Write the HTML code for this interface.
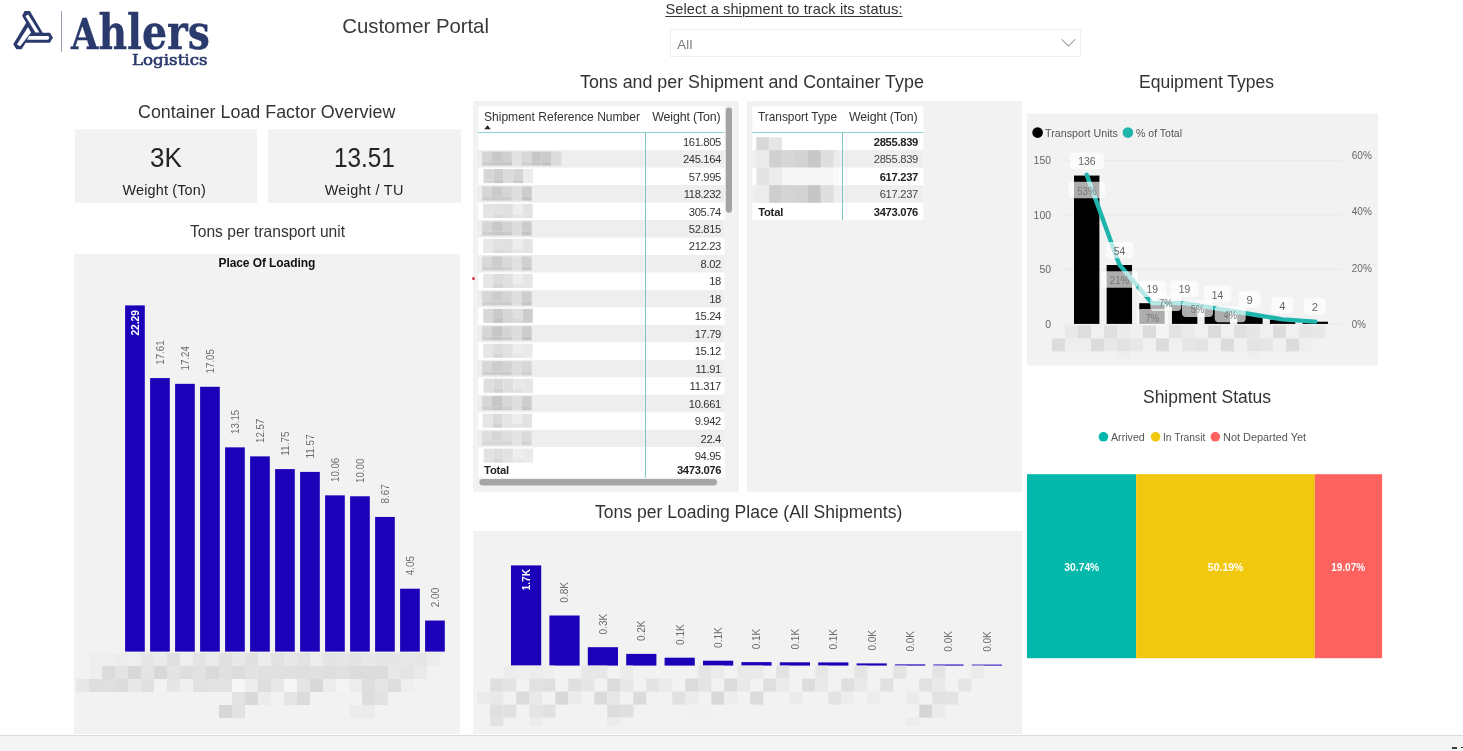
<!DOCTYPE html>
<html lang="en"><head><meta charset="utf-8"><title>Customer Portal</title>
<style>html,body{margin:0;padding:0}body{width:1463px;height:751px;position:relative;overflow:hidden;background:#fff;
font-family:'Liberation Sans',sans-serif;}.abs{position:absolute;display:block}.t{position:absolute;white-space:nowrap;display:block}</style></head>
<body>
<svg class="abs" style="left:0;top:0" width="240" height="80" viewBox="0 0 240 80">
<path fill="#2a3a6c" fill-rule="evenodd" d="M24.6 11.1 L29.9 11.1 L42.7 32.8 L50 32.8 L52.9 37.7 L49.8 42.7 L25.6 42.7 L21.6 49.3 L16.4 49.3 L13.2 44.3 L26.2 22.8 L22.1 15.7 Z
M25.4 16.0 L28.2 14.4 L39.4 32.6 L35.4 32.6 Z
M29.2 36.1 L48.4 36.1 L49.4 37.8 L48.2 39.8 L27.1 39.8 Z
M28.0 27.0 L31.0 32.4 L20.2 46.3 L16.9 44.6 Z"/>
<rect x="61" y="11" width="1" height="41" fill="#9aa0b8"/>
</svg>
<span class="t" id="t1" style="top:8.39px;font-size:48.00px;line-height:48.00px;color:#2a3a6c;font-weight:700;font-family:'DejaVu Serif Condensed', 'DejaVu Serif', serif;left:71.00px;transform:scaleX(0.9122);transform-origin:0 0;-webkit-text-stroke:0.3px #2a3a6c;"><span style="font-size:43px">A</span>hlers</span>
<span class="t" id="t2" style="top:53.10px;font-size:15.60px;line-height:15.60px;color:#2a3a6c;font-family:'DejaVu Serif', 'Liberation Serif', serif;left:132.30px;transform:scaleX(1.0690);transform-origin:0 0;-webkit-text-stroke:0.65px #2a3a6c;">Logistics</span>
<span class="t" id="t3" style="top:15.53px;font-size:20.40px;line-height:20.40px;color:#3a3a3a;letter-spacing:-0.049px;left:342.30px;">Customer Portal</span>
<span class="t" id="t4" style="top:1.64px;font-size:14.60px;line-height:14.60px;color:#333;letter-spacing:0.094px;left:665.40px;text-decoration:underline;text-decoration-thickness:1px;text-underline-offset:1.5px;">Select a shipment to track its status:</span>
<div class="abs" style="left:670px;top:29px;width:409px;height:26px;border:1px solid #efefef;background:#fff"></div>
<span class="t" id="t5" style="top:37.63px;font-size:13.20px;line-height:13.20px;color:#777;letter-spacing:0.281px;left:677.30px;">All</span>
<svg class="abs" style="left:1056px;top:34px" width="24" height="18"><path d="M5.7 5.3 L12.5 12.2 L19 5.3" fill="none" stroke="#777" stroke-width="1"/></svg>
<span class="t" id="t6" style="top:101.83px;font-size:19.10px;line-height:19.10px;color:#333;left:138.00px;transform:scaleX(0.9364);transform-origin:0 0;">Container Load Factor Overview</span>
<div class="abs" style="left:75px;top:129px;width:181.5px;height:74px;background:#f2f2f2"></div>
<div class="abs" style="left:268px;top:129px;width:192.5px;height:74px;background:#f2f2f2"></div>
<span class="t" id="t7" style="top:144.51px;font-size:26.80px;line-height:26.80px;color:#252423;left:150.40px;transform:scaleX(0.9701);transform-origin:0 0;">3K</span>
<span class="t" id="t8" style="top:144.51px;font-size:26.80px;line-height:26.80px;color:#252423;left:334.00px;transform:scaleX(0.9066);transform-origin:0 0;">13.51</span>
<span class="t" id="t9" style="top:182.81px;font-size:14.40px;line-height:14.40px;color:#252423;letter-spacing:0.166px;left:122.60px;">Weight (Ton)</span>
<span class="t" id="t10" style="top:182.81px;font-size:14.40px;line-height:14.40px;color:#252423;letter-spacing:0.322px;left:324.70px;">Weight / TU</span>
<span class="t" id="t11" style="top:222.53px;font-size:16.50px;line-height:16.50px;color:#333;left:189.80px;transform:scaleX(0.9441);transform-origin:0 0;">Tons per transport unit</span>
<svg class="abs" style="left:0;top:240px" width="470" height="500" viewBox="0 240 470 500" font-family="Liberation Sans, sans-serif"><rect x="74.00" y="254.00" width="386.00" height="480.00" fill="#f2f2f2"/><rect x="125.10" y="305.40" width="19.70" height="346.20" fill="#1b02b9"/><text x="139.05" y="335.60" font-size="11.50" text-anchor="start" fill="#fff" font-weight="700" textLength="25.50" lengthAdjust="spacingAndGlyphs" transform="rotate(-90 139.05 335.60)">22.29</text><rect x="150.10" y="378.09" width="19.70" height="273.51" fill="#1b02b9"/><text x="164.05" y="364.69" font-size="11.50" text-anchor="start" fill="#6b6b6b" textLength="24.20" lengthAdjust="spacingAndGlyphs" transform="rotate(-90 164.05 364.69)">17.61</text><rect x="175.10" y="383.83" width="19.70" height="267.77" fill="#1b02b9"/><text x="189.05" y="370.43" font-size="11.50" text-anchor="start" fill="#6b6b6b" textLength="24.20" lengthAdjust="spacingAndGlyphs" transform="rotate(-90 189.05 370.43)">17.24</text><rect x="200.10" y="386.79" width="19.70" height="264.81" fill="#1b02b9"/><text x="214.05" y="373.39" font-size="11.50" text-anchor="start" fill="#6b6b6b" textLength="24.20" lengthAdjust="spacingAndGlyphs" transform="rotate(-90 214.05 373.39)">17.05</text><rect x="225.10" y="447.36" width="19.70" height="204.24" fill="#1b02b9"/><text x="239.05" y="433.96" font-size="11.50" text-anchor="start" fill="#6b6b6b" textLength="24.20" lengthAdjust="spacingAndGlyphs" transform="rotate(-90 239.05 433.96)">13.15</text><rect x="250.10" y="456.37" width="19.70" height="195.23" fill="#1b02b9"/><text x="264.05" y="442.97" font-size="11.50" text-anchor="start" fill="#6b6b6b" textLength="24.20" lengthAdjust="spacingAndGlyphs" transform="rotate(-90 264.05 442.97)">12.57</text><rect x="275.10" y="469.10" width="19.70" height="182.50" fill="#1b02b9"/><text x="289.05" y="455.70" font-size="11.50" text-anchor="start" fill="#6b6b6b" textLength="24.20" lengthAdjust="spacingAndGlyphs" transform="rotate(-90 289.05 455.70)">11.75</text><rect x="300.10" y="471.90" width="19.70" height="179.70" fill="#1b02b9"/><text x="314.05" y="458.50" font-size="11.50" text-anchor="start" fill="#6b6b6b" textLength="24.20" lengthAdjust="spacingAndGlyphs" transform="rotate(-90 314.05 458.50)">11.57</text><rect x="325.10" y="495.35" width="19.70" height="156.25" fill="#1b02b9"/><text x="339.05" y="481.95" font-size="11.50" text-anchor="start" fill="#6b6b6b" textLength="24.20" lengthAdjust="spacingAndGlyphs" transform="rotate(-90 339.05 481.95)">10.06</text><rect x="350.10" y="496.28" width="19.70" height="155.32" fill="#1b02b9"/><text x="364.05" y="482.88" font-size="11.50" text-anchor="start" fill="#6b6b6b" textLength="24.20" lengthAdjust="spacingAndGlyphs" transform="rotate(-90 364.05 482.88)">10.00</text><rect x="375.10" y="516.94" width="19.70" height="134.66" fill="#1b02b9"/><text x="389.05" y="503.54" font-size="11.50" text-anchor="start" fill="#6b6b6b" textLength="19.30" lengthAdjust="spacingAndGlyphs" transform="rotate(-90 389.05 503.54)">8.67</text><rect x="400.10" y="588.70" width="19.70" height="62.90" fill="#1b02b9"/><text x="414.05" y="575.30" font-size="11.50" text-anchor="start" fill="#6b6b6b" textLength="19.30" lengthAdjust="spacingAndGlyphs" transform="rotate(-90 414.05 575.30)">4.05</text><rect x="425.10" y="620.54" width="19.70" height="31.06" fill="#1b02b9"/><text x="439.05" y="607.14" font-size="11.50" text-anchor="start" fill="#6b6b6b" textLength="19.30" lengthAdjust="spacingAndGlyphs" transform="rotate(-90 439.05 607.14)">2.00</text><rect x="89.00" y="653.00" width="13.00" height="13.00" fill="#eeeeee"/><rect x="102.00" y="653.00" width="13.00" height="13.00" fill="#eeeeee"/><rect x="115.00" y="653.00" width="13.00" height="13.00" fill="#ececec"/><rect x="128.00" y="653.00" width="13.00" height="13.00" fill="#eeeeee"/><rect x="141.00" y="653.00" width="13.00" height="13.00" fill="#e6e6e6"/><rect x="154.00" y="653.00" width="13.00" height="13.00" fill="#ebebeb"/><rect x="167.00" y="653.00" width="13.00" height="13.00" fill="#e0e0e0"/><rect x="180.00" y="653.00" width="13.00" height="13.00" fill="#eeeeee"/><rect x="193.00" y="653.00" width="13.00" height="13.00" fill="#e4e4e4"/><rect x="206.00" y="653.00" width="13.00" height="13.00" fill="#ebebeb"/><rect x="219.00" y="653.00" width="13.00" height="13.00" fill="#e0e0e0"/><rect x="232.00" y="653.00" width="13.00" height="13.00" fill="#e8e8e8"/><rect x="245.00" y="653.00" width="13.00" height="13.00" fill="#e0e0e0"/><rect x="258.00" y="653.00" width="13.00" height="13.00" fill="#ececec"/><rect x="271.00" y="653.00" width="13.00" height="13.00" fill="#e2e2e2"/><rect x="284.00" y="653.00" width="13.00" height="13.00" fill="#e8e8e8"/><rect x="297.00" y="653.00" width="13.00" height="13.00" fill="#e2e2e2"/><rect x="310.00" y="653.00" width="13.00" height="13.00" fill="#ececec"/><rect x="323.00" y="653.00" width="13.00" height="13.00" fill="#e4e4e4"/><rect x="336.00" y="653.00" width="13.00" height="13.00" fill="#e6e6e6"/><rect x="349.00" y="653.00" width="13.00" height="13.00" fill="#e4e4e4"/><rect x="362.00" y="653.00" width="13.00" height="13.00" fill="#e8e8e8"/><rect x="375.00" y="653.00" width="13.00" height="13.00" fill="#e6e6e6"/><rect x="388.00" y="653.00" width="13.00" height="13.00" fill="#e6e6e6"/><rect x="401.00" y="653.00" width="13.00" height="13.00" fill="#e8e8e8"/><rect x="414.00" y="653.00" width="13.00" height="13.00" fill="#e6e6e6"/><rect x="427.00" y="653.00" width="13.00" height="13.00" fill="#ececec"/><rect x="89.00" y="666.00" width="13.00" height="13.00" fill="#eeeeee"/><rect x="102.00" y="666.00" width="13.00" height="13.00" fill="#dcdcdc"/><rect x="115.00" y="666.00" width="13.00" height="13.00" fill="#e4e4e4"/><rect x="128.00" y="666.00" width="13.00" height="13.00" fill="#d8d8d8"/><rect x="141.00" y="666.00" width="13.00" height="13.00" fill="#e4e4e4"/><rect x="154.00" y="666.00" width="13.00" height="13.00" fill="#d8d8d8"/><rect x="167.00" y="666.00" width="13.00" height="13.00" fill="#e4e4e4"/><rect x="180.00" y="666.00" width="13.00" height="13.00" fill="#dedede"/><rect x="193.00" y="666.00" width="13.00" height="13.00" fill="#e2e2e2"/><rect x="206.00" y="666.00" width="13.00" height="13.00" fill="#dadada"/><rect x="219.00" y="666.00" width="13.00" height="13.00" fill="#e0e0e0"/><rect x="232.00" y="666.00" width="13.00" height="13.00" fill="#dcdcdc"/><rect x="245.00" y="666.00" width="13.00" height="13.00" fill="#e2e2e2"/><rect x="258.00" y="666.00" width="13.00" height="13.00" fill="#e0e0e0"/><rect x="271.00" y="666.00" width="13.00" height="13.00" fill="#e0e0e0"/><rect x="284.00" y="666.00" width="13.00" height="13.00" fill="#e0e0e0"/><rect x="297.00" y="666.00" width="13.00" height="13.00" fill="#dfdfdf"/><rect x="310.00" y="666.00" width="13.00" height="13.00" fill="#e0e0e0"/><rect x="323.00" y="666.00" width="13.00" height="13.00" fill="#dedede"/><rect x="336.00" y="666.00" width="13.00" height="13.00" fill="#e0e0e0"/><rect x="349.00" y="666.00" width="13.00" height="13.00" fill="#dcdcdc"/><rect x="362.00" y="666.00" width="13.00" height="13.00" fill="#dcdcdc"/><rect x="375.00" y="666.00" width="13.00" height="13.00" fill="#dcdcdc"/><rect x="388.00" y="666.00" width="13.00" height="13.00" fill="#e8e8e8"/><rect x="401.00" y="666.00" width="13.00" height="13.00" fill="#e4e4e4"/><rect x="414.00" y="666.00" width="13.00" height="13.00" fill="#e9e9e9"/><rect x="76.00" y="679.00" width="13.00" height="13.00" fill="#e8e8e8"/><rect x="89.00" y="679.00" width="13.00" height="13.00" fill="#dedede"/><rect x="102.00" y="679.00" width="13.00" height="13.00" fill="#dfdfdf"/><rect x="115.00" y="679.00" width="13.00" height="13.00" fill="#dcdcdc"/><rect x="128.00" y="679.00" width="13.00" height="13.00" fill="#e8e8e8"/><rect x="141.00" y="679.00" width="13.00" height="13.00" fill="#e0e0e0"/><rect x="167.00" y="679.00" width="13.00" height="13.00" fill="#e6e6e6"/><rect x="180.00" y="679.00" width="13.00" height="13.00" fill="#efefef"/><rect x="193.00" y="679.00" width="13.00" height="13.00" fill="#e1e1e1"/><rect x="206.00" y="679.00" width="13.00" height="13.00" fill="#e3e3e3"/><rect x="219.00" y="679.00" width="13.00" height="13.00" fill="#e3e3e3"/><rect x="232.00" y="679.00" width="13.00" height="13.00" fill="#f6f6f6"/><rect x="245.00" y="679.00" width="13.00" height="13.00" fill="#ececec"/><rect x="258.00" y="679.00" width="13.00" height="13.00" fill="#dedede"/><rect x="271.00" y="679.00" width="13.00" height="13.00" fill="#e8e8e8"/><rect x="284.00" y="679.00" width="13.00" height="13.00" fill="#f6f6f6"/><rect x="297.00" y="679.00" width="13.00" height="13.00" fill="#e5e5e5"/><rect x="310.00" y="679.00" width="13.00" height="13.00" fill="#d8d8d8"/><rect x="323.00" y="679.00" width="13.00" height="13.00" fill="#ececec"/><rect x="336.00" y="679.00" width="13.00" height="13.00" fill="#f4f4f4"/><rect x="349.00" y="679.00" width="13.00" height="13.00" fill="#ececec"/><rect x="362.00" y="679.00" width="13.00" height="13.00" fill="#dedede"/><rect x="375.00" y="679.00" width="13.00" height="13.00" fill="#e5e5e5"/><rect x="388.00" y="679.00" width="13.00" height="13.00" fill="#dedede"/><rect x="401.00" y="679.00" width="13.00" height="13.00" fill="#efefef"/><rect x="232.00" y="692.00" width="13.00" height="13.00" fill="#e3e3e3"/><rect x="245.00" y="692.00" width="13.00" height="13.00" fill="#d9d9d9"/><rect x="258.00" y="692.00" width="13.00" height="13.00" fill="#ececec"/><rect x="284.00" y="692.00" width="13.00" height="13.00" fill="#e5e5e5"/><rect x="297.00" y="692.00" width="13.00" height="13.00" fill="#dbdbdb"/><rect x="362.00" y="692.00" width="13.00" height="13.00" fill="#dedede"/><rect x="375.00" y="692.00" width="13.00" height="13.00" fill="#e2e2e2"/><rect x="219.00" y="705.00" width="13.00" height="13.00" fill="#d7d7d7"/><rect x="232.00" y="705.00" width="13.00" height="13.00" fill="#e2e2e2"/><rect x="349.00" y="705.00" width="13.00" height="13.00" fill="#ececec"/><rect x="362.00" y="705.00" width="13.00" height="13.00" fill="#ebebeb"/></svg>
<span class="t" id="t12" style="top:256.94px;font-size:12.00px;line-height:12.00px;color:#111;font-weight:700;letter-spacing:-0.082px;left:218.50px;">Place Of Loading</span>
<span class="t" id="t13" style="top:72.33px;font-size:19.10px;line-height:19.10px;color:#333;left:580.10px;transform:scaleX(0.9343);transform-origin:0 0;">Tons and per Shipment and Container Type</span>
<div class="abs" style="left:473px;top:101px;width:266px;height:391px;background:#f2f2f2"></div>
<div class="abs" style="left:747px;top:101px;width:274.5px;height:391px;background:#f2f2f2"></div>
<svg class="abs" style="left:470px;top:100px" width="560" height="395" viewBox="470 100 560 395"><rect x="478.00" y="106.50" width="246.50" height="371.00" fill="#fff"/><rect x="478.00" y="150.17" width="246.50" height="17.47" fill="#eeeeee"/><rect x="478.00" y="185.11" width="246.50" height="17.47" fill="#eeeeee"/><rect x="478.00" y="220.05" width="246.50" height="17.47" fill="#eeeeee"/><rect x="478.00" y="254.99" width="246.50" height="17.47" fill="#eeeeee"/><rect x="478.00" y="289.93" width="246.50" height="17.47" fill="#eeeeee"/><rect x="478.00" y="324.87" width="246.50" height="17.47" fill="#eeeeee"/><rect x="478.00" y="359.81" width="246.50" height="17.47" fill="#eeeeee"/><rect x="478.00" y="394.75" width="246.50" height="17.47" fill="#eeeeee"/><rect x="478.00" y="429.69" width="246.50" height="17.47" fill="#eeeeee"/><rect x="482.20" y="151.57" width="9.90" height="10.20" fill="#d4d4d4"/><rect x="482.20" y="161.77" width="9.90" height="3.90" fill="#cccccc"/><rect x="492.10" y="151.57" width="9.90" height="10.20" fill="#c8c8c8"/><rect x="492.10" y="161.77" width="9.90" height="3.90" fill="#c8c8c8"/><rect x="502.00" y="151.57" width="9.90" height="10.20" fill="#d0d0d0"/><rect x="502.00" y="161.77" width="9.90" height="3.90" fill="#c8c8c8"/><rect x="511.90" y="151.57" width="9.90" height="10.20" fill="#e2e2e2"/><rect x="511.90" y="161.77" width="9.90" height="3.90" fill="#e2e2e2"/><rect x="521.80" y="151.57" width="9.90" height="10.20" fill="#d8d8d8"/><rect x="521.80" y="161.77" width="9.90" height="3.90" fill="#d0d0d0"/><rect x="531.70" y="151.57" width="9.90" height="10.20" fill="#c6c6c6"/><rect x="531.70" y="161.77" width="9.90" height="3.90" fill="#c6c6c6"/><rect x="541.60" y="151.57" width="9.90" height="10.20" fill="#cacaca"/><rect x="541.60" y="161.77" width="9.90" height="3.90" fill="#c2c2c2"/><rect x="551.50" y="151.57" width="9.90" height="10.20" fill="#dcdcdc"/><rect x="551.50" y="161.77" width="9.90" height="3.90" fill="#dcdcdc"/><rect x="483.60" y="169.04" width="9.90" height="10.20" fill="#d6d6d6"/><rect x="483.60" y="179.24" width="9.90" height="3.90" fill="#d6d6d6"/><rect x="493.50" y="169.04" width="9.90" height="10.20" fill="#cecece"/><rect x="493.50" y="179.24" width="9.90" height="3.90" fill="#c6c6c6"/><rect x="503.40" y="169.04" width="9.90" height="10.20" fill="#dadada"/><rect x="503.40" y="179.24" width="9.90" height="3.90" fill="#dadada"/><rect x="513.30" y="169.04" width="9.90" height="10.20" fill="#d4d4d4"/><rect x="513.30" y="179.24" width="9.90" height="3.90" fill="#cccccc"/><rect x="523.20" y="169.04" width="9.90" height="10.20" fill="#ececec"/><rect x="523.20" y="179.24" width="9.90" height="3.90" fill="#ececec"/><rect x="482.20" y="186.51" width="9.90" height="10.20" fill="#d6d6d6"/><rect x="482.20" y="196.71" width="9.90" height="3.90" fill="#cecece"/><rect x="492.10" y="186.51" width="9.90" height="10.20" fill="#cacaca"/><rect x="492.10" y="196.71" width="9.90" height="3.90" fill="#cacaca"/><rect x="502.00" y="186.51" width="9.90" height="10.20" fill="#d4d4d4"/><rect x="502.00" y="196.71" width="9.90" height="3.90" fill="#cccccc"/><rect x="511.90" y="186.51" width="9.90" height="10.20" fill="#dedede"/><rect x="511.90" y="196.71" width="9.90" height="3.90" fill="#dedede"/><rect x="521.80" y="186.51" width="9.90" height="10.20" fill="#cccccc"/><rect x="521.80" y="196.71" width="9.90" height="3.90" fill="#c4c4c4"/><rect x="483.20" y="203.98" width="9.90" height="10.20" fill="#e4e4e4"/><rect x="483.20" y="214.18" width="9.90" height="3.90" fill="#e4e4e4"/><rect x="493.10" y="203.98" width="9.90" height="10.20" fill="#e2e2e2"/><rect x="493.10" y="214.18" width="9.90" height="3.90" fill="#dadada"/><rect x="503.00" y="203.98" width="9.90" height="10.20" fill="#e0e0e0"/><rect x="503.00" y="214.18" width="9.90" height="3.90" fill="#e0e0e0"/><rect x="512.90" y="203.98" width="9.90" height="10.20" fill="#eeeeee"/><rect x="512.90" y="214.18" width="9.90" height="3.90" fill="#e6e6e6"/><rect x="522.80" y="203.98" width="9.90" height="10.20" fill="#e2e2e2"/><rect x="522.80" y="214.18" width="9.90" height="3.90" fill="#e2e2e2"/><rect x="482.20" y="221.45" width="9.90" height="10.20" fill="#d6d6d6"/><rect x="482.20" y="231.65" width="9.90" height="3.90" fill="#cecece"/><rect x="492.10" y="221.45" width="9.90" height="10.20" fill="#c8c8c8"/><rect x="492.10" y="231.65" width="9.90" height="3.90" fill="#c8c8c8"/><rect x="502.00" y="221.45" width="9.90" height="10.20" fill="#d2d2d2"/><rect x="502.00" y="231.65" width="9.90" height="3.90" fill="#cacaca"/><rect x="511.90" y="221.45" width="9.90" height="10.20" fill="#dcdcdc"/><rect x="511.90" y="231.65" width="9.90" height="3.90" fill="#dcdcdc"/><rect x="521.80" y="221.45" width="9.90" height="10.20" fill="#cccccc"/><rect x="521.80" y="231.65" width="9.90" height="3.90" fill="#c4c4c4"/><rect x="483.20" y="238.92" width="9.90" height="10.20" fill="#e8e8e8"/><rect x="483.20" y="249.12" width="9.90" height="3.90" fill="#e8e8e8"/><rect x="493.10" y="238.92" width="9.90" height="10.20" fill="#e2e2e2"/><rect x="493.10" y="249.12" width="9.90" height="3.90" fill="#dadada"/><rect x="503.00" y="238.92" width="9.90" height="10.20" fill="#e0e0e0"/><rect x="503.00" y="249.12" width="9.90" height="3.90" fill="#e0e0e0"/><rect x="512.90" y="238.92" width="9.90" height="10.20" fill="#eeeeee"/><rect x="512.90" y="249.12" width="9.90" height="3.90" fill="#e6e6e6"/><rect x="522.80" y="238.92" width="9.90" height="10.20" fill="#e4e4e4"/><rect x="522.80" y="249.12" width="9.90" height="3.90" fill="#e4e4e4"/><rect x="482.20" y="256.39" width="9.90" height="10.20" fill="#d8d8d8"/><rect x="482.20" y="266.59" width="9.90" height="3.90" fill="#d0d0d0"/><rect x="492.10" y="256.39" width="9.90" height="10.20" fill="#cccccc"/><rect x="492.10" y="266.59" width="9.90" height="3.90" fill="#cccccc"/><rect x="502.00" y="256.39" width="9.90" height="10.20" fill="#d8d8d8"/><rect x="502.00" y="266.59" width="9.90" height="3.90" fill="#d0d0d0"/><rect x="511.90" y="256.39" width="9.90" height="10.20" fill="#e0e0e0"/><rect x="511.90" y="266.59" width="9.90" height="3.90" fill="#e0e0e0"/><rect x="521.80" y="256.39" width="9.90" height="10.20" fill="#d0d0d0"/><rect x="521.80" y="266.59" width="9.90" height="3.90" fill="#c8c8c8"/><rect x="483.20" y="273.86" width="9.90" height="10.20" fill="#e6e6e6"/><rect x="483.20" y="284.06" width="9.90" height="3.90" fill="#e6e6e6"/><rect x="493.10" y="273.86" width="9.90" height="10.20" fill="#dcdcdc"/><rect x="493.10" y="284.06" width="9.90" height="3.90" fill="#d4d4d4"/><rect x="503.00" y="273.86" width="9.90" height="10.20" fill="#e0e0e0"/><rect x="503.00" y="284.06" width="9.90" height="3.90" fill="#e0e0e0"/><rect x="512.90" y="273.86" width="9.90" height="10.20" fill="#eeeeee"/><rect x="512.90" y="284.06" width="9.90" height="3.90" fill="#e6e6e6"/><rect x="522.80" y="273.86" width="9.90" height="10.20" fill="#e6e6e6"/><rect x="522.80" y="284.06" width="9.90" height="3.90" fill="#e6e6e6"/><rect x="482.20" y="291.33" width="9.90" height="10.20" fill="#d6d6d6"/><rect x="482.20" y="301.53" width="9.90" height="3.90" fill="#cecece"/><rect x="492.10" y="291.33" width="9.90" height="10.20" fill="#cccccc"/><rect x="492.10" y="301.53" width="9.90" height="3.90" fill="#cccccc"/><rect x="502.00" y="291.33" width="9.90" height="10.20" fill="#d4d4d4"/><rect x="502.00" y="301.53" width="9.90" height="3.90" fill="#cccccc"/><rect x="511.90" y="291.33" width="9.90" height="10.20" fill="#dedede"/><rect x="511.90" y="301.53" width="9.90" height="3.90" fill="#dedede"/><rect x="521.80" y="291.33" width="9.90" height="10.20" fill="#cecece"/><rect x="521.80" y="301.53" width="9.90" height="3.90" fill="#c6c6c6"/><rect x="483.20" y="308.80" width="9.90" height="10.20" fill="#d8d8d8"/><rect x="483.20" y="319.00" width="9.90" height="3.90" fill="#d8d8d8"/><rect x="493.10" y="308.80" width="9.90" height="10.20" fill="#cacaca"/><rect x="493.10" y="319.00" width="9.90" height="3.90" fill="#c2c2c2"/><rect x="503.00" y="308.80" width="9.90" height="10.20" fill="#d6d6d6"/><rect x="503.00" y="319.00" width="9.90" height="3.90" fill="#d6d6d6"/><rect x="512.90" y="308.80" width="9.90" height="10.20" fill="#e0e0e0"/><rect x="512.90" y="319.00" width="9.90" height="3.90" fill="#d8d8d8"/><rect x="522.80" y="308.80" width="9.90" height="10.20" fill="#cccccc"/><rect x="522.80" y="319.00" width="9.90" height="3.90" fill="#cccccc"/><rect x="482.20" y="326.27" width="9.90" height="10.20" fill="#d6d6d6"/><rect x="482.20" y="336.47" width="9.90" height="3.90" fill="#cecece"/><rect x="492.10" y="326.27" width="9.90" height="10.20" fill="#c6c6c6"/><rect x="492.10" y="336.47" width="9.90" height="3.90" fill="#c6c6c6"/><rect x="502.00" y="326.27" width="9.90" height="10.20" fill="#d4d4d4"/><rect x="502.00" y="336.47" width="9.90" height="3.90" fill="#cccccc"/><rect x="511.90" y="326.27" width="9.90" height="10.20" fill="#dcdcdc"/><rect x="511.90" y="336.47" width="9.90" height="3.90" fill="#dcdcdc"/><rect x="521.80" y="326.27" width="9.90" height="10.20" fill="#cccccc"/><rect x="521.80" y="336.47" width="9.90" height="3.90" fill="#c4c4c4"/><rect x="483.20" y="343.74" width="9.90" height="10.20" fill="#e6e6e6"/><rect x="483.20" y="353.94" width="9.90" height="3.90" fill="#e6e6e6"/><rect x="493.10" y="343.74" width="9.90" height="10.20" fill="#dedede"/><rect x="493.10" y="353.94" width="9.90" height="3.90" fill="#d6d6d6"/><rect x="503.00" y="343.74" width="9.90" height="10.20" fill="#e2e2e2"/><rect x="503.00" y="353.94" width="9.90" height="3.90" fill="#e2e2e2"/><rect x="512.90" y="343.74" width="9.90" height="10.20" fill="#eeeeee"/><rect x="512.90" y="353.94" width="9.90" height="3.90" fill="#e6e6e6"/><rect x="522.80" y="343.74" width="9.90" height="10.20" fill="#eaeaea"/><rect x="522.80" y="353.94" width="9.90" height="3.90" fill="#eaeaea"/><rect x="482.20" y="361.21" width="9.90" height="10.20" fill="#d6d6d6"/><rect x="482.20" y="371.41" width="9.90" height="3.90" fill="#cecece"/><rect x="492.10" y="361.21" width="9.90" height="10.20" fill="#cccccc"/><rect x="492.10" y="371.41" width="9.90" height="3.90" fill="#cccccc"/><rect x="502.00" y="361.21" width="9.90" height="10.20" fill="#d2d2d2"/><rect x="502.00" y="371.41" width="9.90" height="3.90" fill="#cacaca"/><rect x="511.90" y="361.21" width="9.90" height="10.20" fill="#dcdcdc"/><rect x="511.90" y="371.41" width="9.90" height="3.90" fill="#dcdcdc"/><rect x="521.80" y="361.21" width="9.90" height="10.20" fill="#d6d6d6"/><rect x="521.80" y="371.41" width="9.90" height="3.90" fill="#cecece"/><rect x="483.60" y="378.68" width="9.90" height="10.20" fill="#dedede"/><rect x="483.60" y="388.88" width="9.90" height="3.90" fill="#dedede"/><rect x="493.50" y="378.68" width="9.90" height="10.20" fill="#d8d8d8"/><rect x="493.50" y="388.88" width="9.90" height="3.90" fill="#d0d0d0"/><rect x="503.40" y="378.68" width="9.90" height="10.20" fill="#dedede"/><rect x="503.40" y="388.88" width="9.90" height="3.90" fill="#dedede"/><rect x="513.30" y="378.68" width="9.90" height="10.20" fill="#e8e8e8"/><rect x="513.30" y="388.88" width="9.90" height="3.90" fill="#e0e0e0"/><rect x="523.20" y="378.68" width="9.90" height="10.20" fill="#e6e6e6"/><rect x="523.20" y="388.88" width="9.90" height="3.90" fill="#e6e6e6"/><rect x="482.20" y="396.15" width="9.90" height="10.20" fill="#d6d6d6"/><rect x="482.20" y="406.35" width="9.90" height="3.90" fill="#cecece"/><rect x="492.10" y="396.15" width="9.90" height="10.20" fill="#c6c6c6"/><rect x="492.10" y="406.35" width="9.90" height="3.90" fill="#c6c6c6"/><rect x="502.00" y="396.15" width="9.90" height="10.20" fill="#d6d6d6"/><rect x="502.00" y="406.35" width="9.90" height="3.90" fill="#cecece"/><rect x="511.90" y="396.15" width="9.90" height="10.20" fill="#dedede"/><rect x="511.90" y="406.35" width="9.90" height="3.90" fill="#dedede"/><rect x="521.80" y="396.15" width="9.90" height="10.20" fill="#cecece"/><rect x="521.80" y="406.35" width="9.90" height="3.90" fill="#c6c6c6"/><rect x="482.60" y="413.62" width="9.90" height="10.20" fill="#e6e6e6"/><rect x="482.60" y="423.82" width="9.90" height="3.90" fill="#e6e6e6"/><rect x="492.50" y="413.62" width="9.90" height="10.20" fill="#dadada"/><rect x="492.50" y="423.82" width="9.90" height="3.90" fill="#d2d2d2"/><rect x="502.40" y="413.62" width="9.90" height="10.20" fill="#e4e4e4"/><rect x="502.40" y="423.82" width="9.90" height="3.90" fill="#e4e4e4"/><rect x="512.30" y="413.62" width="9.90" height="10.20" fill="#ececec"/><rect x="512.30" y="423.82" width="9.90" height="3.90" fill="#e4e4e4"/><rect x="522.20" y="413.62" width="9.90" height="10.20" fill="#e2e2e2"/><rect x="522.20" y="423.82" width="9.90" height="3.90" fill="#e2e2e2"/><rect x="482.20" y="431.09" width="9.90" height="10.20" fill="#dedede"/><rect x="482.20" y="441.29" width="9.90" height="3.90" fill="#d6d6d6"/><rect x="492.10" y="431.09" width="9.90" height="10.20" fill="#d6d6d6"/><rect x="492.10" y="441.29" width="9.90" height="3.90" fill="#d6d6d6"/><rect x="502.00" y="431.09" width="9.90" height="10.20" fill="#dedede"/><rect x="502.00" y="441.29" width="9.90" height="3.90" fill="#d6d6d6"/><rect x="511.90" y="431.09" width="9.90" height="10.20" fill="#e4e4e4"/><rect x="511.90" y="441.29" width="9.90" height="3.90" fill="#e4e4e4"/><rect x="521.80" y="431.09" width="9.90" height="10.20" fill="#dadada"/><rect x="521.80" y="441.29" width="9.90" height="3.90" fill="#d2d2d2"/><rect x="483.60" y="448.56" width="9.90" height="10.20" fill="#e2e2e2"/><rect x="483.60" y="458.76" width="9.90" height="3.90" fill="#e2e2e2"/><rect x="493.50" y="448.56" width="9.90" height="10.20" fill="#dedede"/><rect x="493.50" y="458.76" width="9.90" height="3.90" fill="#d6d6d6"/><rect x="503.40" y="448.56" width="9.90" height="10.20" fill="#e2e2e2"/><rect x="503.40" y="458.76" width="9.90" height="3.90" fill="#e2e2e2"/><rect x="513.30" y="448.56" width="9.90" height="10.20" fill="#eeeeee"/><rect x="513.30" y="458.76" width="9.90" height="3.90" fill="#e6e6e6"/><rect x="523.20" y="448.56" width="9.90" height="10.20" fill="#eaeaea"/><rect x="523.20" y="458.76" width="9.90" height="3.90" fill="#eaeaea"/><rect x="478.00" y="132.00" width="246.50" height="1.00" fill="#8fd3d1"/><rect x="645.00" y="132.00" width="1.00" height="345.50" fill="#7ac7c6"/><path d="M484.2 129.2 L487.5 125.3 L490.8 129.2 Z" fill="#222"/><rect x="725.80" y="107.40" width="6.20" height="105.30" fill="#a3a3a3" rx="3.1"/><rect x="479.40" y="479.00" width="237.60" height="6.60" fill="#a6a6a6" rx="3.3"/><rect x="752.30" y="106.50" width="171.00" height="113.50" fill="#fff"/><rect x="752.30" y="150.10" width="171.00" height="17.50" fill="#eeeeee"/><rect x="752.30" y="185.10" width="171.00" height="17.50" fill="#eeeeee"/><rect x="756.30" y="137.20" width="12.90" height="13.00" fill="#d8d8d8"/><rect x="769.20" y="137.20" width="12.90" height="13.00" fill="#e6e6e6"/><rect x="756.30" y="150.20" width="12.90" height="17.50" fill="#eaeaea"/><rect x="769.20" y="150.20" width="12.90" height="17.50" fill="#d0d0d0"/><rect x="782.10" y="150.20" width="12.90" height="17.50" fill="#d6d6d6"/><rect x="795.00" y="150.20" width="12.90" height="17.50" fill="#d2d2d2"/><rect x="807.90" y="150.20" width="12.90" height="17.50" fill="#c8c8c8"/><rect x="820.80" y="150.20" width="12.90" height="17.50" fill="#dedede"/><rect x="833.70" y="150.20" width="5.50" height="17.50" fill="#ececec"/><rect x="756.30" y="167.70" width="12.90" height="17.50" fill="#e4e4e4"/><rect x="769.20" y="167.70" width="12.90" height="17.50" fill="#ececec"/><rect x="782.10" y="167.70" width="12.90" height="17.50" fill="#f6f6f6"/><rect x="795.00" y="167.70" width="12.90" height="17.50" fill="#f7f7f7"/><rect x="807.90" y="167.70" width="12.90" height="17.50" fill="#f6f6f6"/><rect x="820.80" y="167.70" width="12.90" height="17.50" fill="#f7f7f7"/><rect x="833.70" y="167.70" width="5.50" height="17.50" fill="#f9f9f9"/><rect x="756.30" y="185.20" width="12.90" height="17.50" fill="#ececec"/><rect x="769.20" y="185.20" width="12.90" height="17.50" fill="#cecece"/><rect x="782.10" y="185.20" width="12.90" height="17.50" fill="#d4d4d4"/><rect x="795.00" y="185.20" width="12.90" height="17.50" fill="#d2d2d2"/><rect x="807.90" y="185.20" width="12.90" height="17.50" fill="#c6c6c6"/><rect x="820.80" y="185.20" width="12.90" height="17.50" fill="#dedede"/><rect x="833.70" y="185.20" width="5.50" height="17.50" fill="#eeeeee"/><rect x="752.30" y="132.00" width="171.00" height="1.00" fill="#8fd3d1"/><rect x="842.00" y="132.00" width="1.00" height="88.00" fill="#7ac7c6"/></svg>
<span class="t" id="t14" style="top:111.10px;font-size:12.40px;line-height:12.40px;color:#333;left:483.60px;transform:scaleX(0.9722);transform-origin:0 0;">Shipment Reference Number</span>
<span class="t" id="t15" style="top:111.10px;font-size:12.40px;line-height:12.40px;color:#333;letter-spacing:-0.135px;left:652.20px;">Weight (Ton)</span>
<span class="t" id="t16" style="top:136.62px;font-size:11.20px;line-height:11.20px;color:#333;right:742.10px;letter-spacing:-0.35px;">161.805</span>
<span class="t" id="t17" style="top:154.09px;font-size:11.20px;line-height:11.20px;color:#333;right:742.10px;letter-spacing:-0.35px;">245.164</span>
<span class="t" id="t18" style="top:171.56px;font-size:11.20px;line-height:11.20px;color:#333;right:742.10px;letter-spacing:-0.35px;">57.995</span>
<span class="t" id="t19" style="top:189.03px;font-size:11.20px;line-height:11.20px;color:#333;right:742.10px;letter-spacing:-0.35px;">118.232</span>
<span class="t" id="t20" style="top:206.50px;font-size:11.20px;line-height:11.20px;color:#333;right:742.10px;letter-spacing:-0.35px;">305.74</span>
<span class="t" id="t21" style="top:223.97px;font-size:11.20px;line-height:11.20px;color:#333;right:742.10px;letter-spacing:-0.35px;">52.815</span>
<span class="t" id="t22" style="top:241.44px;font-size:11.20px;line-height:11.20px;color:#333;right:742.10px;letter-spacing:-0.35px;">212.23</span>
<span class="t" id="t23" style="top:258.91px;font-size:11.20px;line-height:11.20px;color:#333;right:742.10px;letter-spacing:-0.35px;">8.02</span>
<span class="t" id="t24" style="top:276.38px;font-size:11.20px;line-height:11.20px;color:#333;right:742.10px;letter-spacing:-0.35px;">18</span>
<span class="t" id="t25" style="top:293.85px;font-size:11.20px;line-height:11.20px;color:#333;right:742.10px;letter-spacing:-0.35px;">18</span>
<span class="t" id="t26" style="top:311.32px;font-size:11.20px;line-height:11.20px;color:#333;right:742.10px;letter-spacing:-0.35px;">15.24</span>
<span class="t" id="t27" style="top:328.79px;font-size:11.20px;line-height:11.20px;color:#333;right:742.10px;letter-spacing:-0.35px;">17.79</span>
<span class="t" id="t28" style="top:346.26px;font-size:11.20px;line-height:11.20px;color:#333;right:742.10px;letter-spacing:-0.35px;">15.12</span>
<span class="t" id="t29" style="top:363.73px;font-size:11.20px;line-height:11.20px;color:#333;right:742.10px;letter-spacing:-0.35px;">11.91</span>
<span class="t" id="t30" style="top:381.20px;font-size:11.20px;line-height:11.20px;color:#333;right:742.10px;letter-spacing:-0.35px;">11.317</span>
<span class="t" id="t31" style="top:398.67px;font-size:11.20px;line-height:11.20px;color:#333;right:742.10px;letter-spacing:-0.35px;">10.661</span>
<span class="t" id="t32" style="top:416.14px;font-size:11.20px;line-height:11.20px;color:#333;right:742.10px;letter-spacing:-0.35px;">9.942</span>
<span class="t" id="t33" style="top:433.61px;font-size:11.20px;line-height:11.20px;color:#333;right:742.10px;letter-spacing:-0.35px;">22.4</span>
<span class="t" id="t34" style="top:451.08px;font-size:11.20px;line-height:11.20px;color:#333;right:742.10px;letter-spacing:-0.35px;">94.95</span>
<div class="abs" style="left:478px;top:464.2px;width:246.5px;height:13.3px;overflow:hidden;background:#fff"><span class="t" style="left:6.1px;top:0.8px;font-size:11.2px;line-height:11.2px;font-weight:700;color:#222;letter-spacing:-0.2px">Total</span><span class="t" style="right:3.3px;top:0.8px;font-size:11.2px;line-height:11.2px;font-weight:700;color:#222;letter-spacing:-0.3px">3473.076</span><div class="abs" style="left:167px;top:0;width:1px;height:14px;background:#7ac7c6"></div></div>
<span class="t" id="t35" style="top:111.30px;font-size:12.40px;line-height:12.40px;color:#333;left:758.20px;transform:scaleX(0.9558);transform-origin:0 0;">Transport Type</span>
<span class="t" id="t36" style="top:111.30px;font-size:12.40px;line-height:12.40px;color:#333;letter-spacing:-0.135px;left:849.00px;">Weight (Ton)</span>
<span class="t" id="t37" style="top:136.62px;font-size:11.20px;line-height:11.20px;color:#222;font-weight:700;right:545.00px;letter-spacing:-0.3px;">2855.839</span>
<span class="t" id="t38" style="top:154.09px;font-size:11.20px;line-height:11.20px;color:#444;right:545.00px;letter-spacing:-0.3px;">2855.839</span>
<span class="t" id="t39" style="top:171.56px;font-size:11.20px;line-height:11.20px;color:#222;font-weight:700;right:545.00px;letter-spacing:-0.3px;">617.237</span>
<span class="t" id="t40" style="top:189.03px;font-size:11.20px;line-height:11.20px;color:#444;right:545.00px;letter-spacing:-0.3px;">617.237</span>
<span class="t" id="t41" style="top:206.50px;font-size:11.20px;line-height:11.20px;color:#222;font-weight:700;right:545.00px;letter-spacing:-0.3px;">3473.076</span>
<span class="t" id="t42" style="top:206.50px;font-size:11.20px;line-height:11.20px;color:#222;font-weight:700;left:758.20px;letter-spacing:-0.2px;">Total</span>
<div class="abs" style="left:471.6px;top:276.6px;width:3px;height:3px;border-radius:2px;background:#d9363e"></div>
<span class="t" id="t43" style="top:502.03px;font-size:19.10px;line-height:19.10px;color:#333;left:594.80px;transform:scaleX(0.9192);transform-origin:0 0;">Tons per Loading Place (All Shipments)</span>
<svg class="abs" style="left:470px;top:528px" width="560" height="210" viewBox="470 528 560 210" font-family="Liberation Sans, sans-serif"><rect x="473.20" y="531.00" width="549.00" height="203.00" fill="#f2f2f2"/><rect x="511.00" y="565.40" width="30.20" height="100.20" fill="#1b02b9"/><text x="530.00" y="590.40" font-size="11.00" text-anchor="start" fill="#fff" font-weight="700" textLength="21.50" lengthAdjust="spacingAndGlyphs" transform="rotate(-90 530.00 590.40)">1.7K</text><rect x="549.40" y="615.50" width="30.20" height="50.10" fill="#1b02b9"/><text x="568.40" y="602.70" font-size="11.00" text-anchor="start" fill="#6b6b6b" textLength="20.60" lengthAdjust="spacingAndGlyphs" transform="rotate(-90 568.40 602.70)">0.8K</text><rect x="587.80" y="647.20" width="30.20" height="18.40" fill="#1b02b9"/><text x="606.80" y="634.40" font-size="11.00" text-anchor="start" fill="#6b6b6b" textLength="20.60" lengthAdjust="spacingAndGlyphs" transform="rotate(-90 606.80 634.40)">0.3K</text><rect x="626.20" y="653.90" width="30.20" height="11.70" fill="#1b02b9"/><text x="645.20" y="641.10" font-size="11.00" text-anchor="start" fill="#6b6b6b" textLength="20.60" lengthAdjust="spacingAndGlyphs" transform="rotate(-90 645.20 641.10)">0.2K</text><rect x="664.60" y="657.70" width="30.20" height="7.90" fill="#1b02b9"/><text x="683.60" y="644.90" font-size="11.00" text-anchor="start" fill="#6b6b6b" textLength="20.60" lengthAdjust="spacingAndGlyphs" transform="rotate(-90 683.60 644.90)">0.1K</text><rect x="703.00" y="660.70" width="30.20" height="4.90" fill="#1b02b9"/><text x="722.00" y="647.90" font-size="11.00" text-anchor="start" fill="#6b6b6b" textLength="20.60" lengthAdjust="spacingAndGlyphs" transform="rotate(-90 722.00 647.90)">0.1K</text><rect x="741.40" y="662.10" width="30.20" height="3.50" fill="#1b02b9"/><text x="760.40" y="649.30" font-size="11.00" text-anchor="start" fill="#6b6b6b" textLength="20.60" lengthAdjust="spacingAndGlyphs" transform="rotate(-90 760.40 649.30)">0.1K</text><rect x="779.80" y="662.30" width="30.20" height="3.30" fill="#1b02b9"/><text x="798.80" y="649.50" font-size="11.00" text-anchor="start" fill="#6b6b6b" textLength="20.60" lengthAdjust="spacingAndGlyphs" transform="rotate(-90 798.80 649.50)">0.1K</text><rect x="818.20" y="662.40" width="30.20" height="3.20" fill="#1b02b9"/><text x="837.20" y="649.60" font-size="11.00" text-anchor="start" fill="#6b6b6b" textLength="20.60" lengthAdjust="spacingAndGlyphs" transform="rotate(-90 837.20 649.60)">0.1K</text><rect x="856.60" y="663.40" width="30.20" height="2.20" fill="#1b02b9"/><text x="875.60" y="650.60" font-size="11.00" text-anchor="start" fill="#6b6b6b" textLength="20.60" lengthAdjust="spacingAndGlyphs" transform="rotate(-90 875.60 650.60)">0.0K</text><rect x="895.00" y="664.40" width="30.20" height="1.20" fill="#1b02b9"/><text x="914.00" y="651.60" font-size="11.00" text-anchor="start" fill="#6b6b6b" textLength="20.60" lengthAdjust="spacingAndGlyphs" transform="rotate(-90 914.00 651.60)">0.0K</text><rect x="933.40" y="664.50" width="30.20" height="1.10" fill="#1b02b9"/><text x="952.40" y="651.70" font-size="11.00" text-anchor="start" fill="#6b6b6b" textLength="20.60" lengthAdjust="spacingAndGlyphs" transform="rotate(-90 952.40 651.70)">0.0K</text><rect x="971.80" y="664.60" width="30.20" height="1.00" fill="#1b02b9"/><text x="990.80" y="651.80" font-size="11.00" text-anchor="start" fill="#6b6b6b" textLength="20.60" lengthAdjust="spacingAndGlyphs" transform="rotate(-90 990.80 651.80)">0.0K</text><rect x="503.30" y="665.60" width="13.00" height="13.00" fill="#ededed"/><rect x="516.30" y="665.60" width="13.00" height="13.00" fill="#efefef"/><rect x="529.30" y="665.60" width="13.00" height="13.00" fill="#ededed"/><rect x="542.30" y="665.60" width="13.00" height="13.00" fill="#efefef"/><rect x="581.30" y="665.60" width="13.00" height="13.00" fill="#e7e7e7"/><rect x="594.30" y="665.60" width="13.00" height="13.00" fill="#e7e7e7"/><rect x="620.30" y="665.60" width="13.00" height="13.00" fill="#ebebeb"/><rect x="698.30" y="665.60" width="13.00" height="13.00" fill="#e5e5e5"/><rect x="711.30" y="665.60" width="13.00" height="13.00" fill="#ebebeb"/><rect x="737.30" y="665.60" width="13.00" height="13.00" fill="#e9e9e9"/><rect x="750.30" y="665.60" width="13.00" height="13.00" fill="#e9e9e9"/><rect x="776.30" y="665.60" width="13.00" height="13.00" fill="#e3e3e3"/><rect x="815.30" y="665.60" width="13.00" height="13.00" fill="#e7e7e7"/><rect x="854.30" y="665.60" width="13.00" height="13.00" fill="#e5e5e5"/><rect x="893.30" y="665.60" width="13.00" height="13.00" fill="#e3e3e3"/><rect x="932.30" y="665.60" width="13.00" height="13.00" fill="#e3e3e3"/><rect x="971.30" y="665.60" width="13.00" height="13.00" fill="#ebebeb"/><rect x="490.30" y="678.60" width="13.00" height="13.00" fill="#dfdfdf"/><rect x="503.30" y="678.60" width="13.00" height="13.00" fill="#e3e3e3"/><rect x="529.30" y="678.60" width="13.00" height="13.00" fill="#e1e1e1"/><rect x="542.30" y="678.60" width="13.00" height="13.00" fill="#dfdfdf"/><rect x="568.30" y="678.60" width="13.00" height="13.00" fill="#dfdfdf"/><rect x="581.30" y="678.60" width="13.00" height="13.00" fill="#e5e5e5"/><rect x="607.30" y="678.60" width="13.00" height="13.00" fill="#dbdbdb"/><rect x="620.30" y="678.60" width="13.00" height="13.00" fill="#e7e7e7"/><rect x="646.30" y="678.60" width="13.00" height="13.00" fill="#e3e3e3"/><rect x="659.30" y="678.60" width="13.00" height="13.00" fill="#ebebeb"/><rect x="685.30" y="678.60" width="13.00" height="13.00" fill="#dbdbdb"/><rect x="698.30" y="678.60" width="13.00" height="13.00" fill="#e3e3e3"/><rect x="724.30" y="678.60" width="13.00" height="13.00" fill="#dbdbdb"/><rect x="737.30" y="678.60" width="13.00" height="13.00" fill="#e9e9e9"/><rect x="763.30" y="678.60" width="13.00" height="13.00" fill="#dfdfdf"/><rect x="776.30" y="678.60" width="13.00" height="13.00" fill="#ebebeb"/><rect x="802.30" y="678.60" width="13.00" height="13.00" fill="#dddddd"/><rect x="815.30" y="678.60" width="13.00" height="13.00" fill="#e9e9e9"/><rect x="841.30" y="678.60" width="13.00" height="13.00" fill="#dfdfdf"/><rect x="854.30" y="678.60" width="13.00" height="13.00" fill="#e9e9e9"/><rect x="880.30" y="678.60" width="13.00" height="13.00" fill="#e1e1e1"/><rect x="919.30" y="678.60" width="13.00" height="13.00" fill="#e1e1e1"/><rect x="932.30" y="678.60" width="13.00" height="13.00" fill="#e9e9e9"/><rect x="958.30" y="678.60" width="13.00" height="13.00" fill="#e5e5e5"/><rect x="477.30" y="691.60" width="13.00" height="13.00" fill="#ebebeb"/><rect x="490.30" y="691.60" width="13.00" height="13.00" fill="#e9e9e9"/><rect x="516.30" y="691.60" width="13.00" height="13.00" fill="#dbdbdb"/><rect x="529.30" y="691.60" width="13.00" height="13.00" fill="#e9e9e9"/><rect x="555.30" y="691.60" width="13.00" height="13.00" fill="#d9d9d9"/><rect x="568.30" y="691.60" width="13.00" height="13.00" fill="#ebebeb"/><rect x="594.30" y="691.60" width="13.00" height="13.00" fill="#dbdbdb"/><rect x="607.30" y="691.60" width="13.00" height="13.00" fill="#e7e7e7"/><rect x="633.30" y="691.60" width="13.00" height="13.00" fill="#dbdbdb"/><rect x="672.30" y="691.60" width="13.00" height="13.00" fill="#e1e1e1"/><rect x="685.30" y="691.60" width="13.00" height="13.00" fill="#ebebeb"/><rect x="711.30" y="691.60" width="13.00" height="13.00" fill="#d9d9d9"/><rect x="724.30" y="691.60" width="13.00" height="13.00" fill="#ededed"/><rect x="750.30" y="691.60" width="13.00" height="13.00" fill="#dbdbdb"/><rect x="789.30" y="691.60" width="13.00" height="13.00" fill="#ebebeb"/><rect x="828.30" y="691.60" width="13.00" height="13.00" fill="#e3e3e3"/><rect x="841.30" y="691.60" width="13.00" height="13.00" fill="#ededed"/><rect x="867.30" y="691.60" width="13.00" height="13.00" fill="#ededed"/><rect x="906.30" y="691.60" width="13.00" height="13.00" fill="#ebebeb"/><rect x="932.30" y="691.60" width="13.00" height="13.00" fill="#e1e1e1"/><rect x="945.30" y="691.60" width="13.00" height="13.00" fill="#e3e3e3"/><rect x="490.30" y="704.60" width="13.00" height="13.00" fill="#dfdfdf"/><rect x="503.30" y="704.60" width="13.00" height="13.00" fill="#e1e1e1"/><rect x="529.30" y="704.60" width="13.00" height="13.00" fill="#e5e5e5"/><rect x="542.30" y="704.60" width="13.00" height="13.00" fill="#e1e1e1"/><rect x="607.30" y="704.60" width="13.00" height="13.00" fill="#dddddd"/><rect x="620.30" y="704.60" width="13.00" height="13.00" fill="#dfdfdf"/><rect x="685.30" y="704.60" width="13.00" height="13.00" fill="#f0f0f0"/><rect x="698.30" y="704.60" width="13.00" height="13.00" fill="#f0f0f0"/><rect x="919.30" y="704.60" width="13.00" height="13.00" fill="#d5d5d5"/><rect x="932.30" y="704.60" width="13.00" height="13.00" fill="#ebebeb"/><rect x="490.30" y="717.60" width="13.00" height="8.50" fill="#e2e2e2"/><rect x="529.30" y="717.60" width="13.00" height="8.50" fill="#ececec"/><rect x="607.30" y="717.60" width="13.00" height="8.50" fill="#ececec"/><rect x="906.30" y="717.60" width="13.00" height="8.50" fill="#ececec"/></svg>
<span class="t" id="t44" style="top:72.43px;font-size:19.10px;line-height:19.10px;color:#333;left:1139.20px;transform:scaleX(0.9179);transform-origin:0 0;">Equipment Types</span>
<svg class="abs" style="left:1020px;top:110px" width="365" height="260" viewBox="1020 110 365 260" font-family="Liberation Sans, sans-serif"><rect x="1027.00" y="113.40" width="351.00" height="252.00" fill="#f2f2f2"/><rect x="1062.00" y="159.80" width="280.00" height="1.00" fill="#e9e9e9"/><text x="1051.00" y="164.30" font-size="11.00" text-anchor="end" fill="#666" textLength="17.40" lengthAdjust="spacingAndGlyphs">150</text><rect x="1062.00" y="214.33" width="280.00" height="1.00" fill="#e9e9e9"/><text x="1051.00" y="218.83" font-size="11.00" text-anchor="end" fill="#666" textLength="17.40" lengthAdjust="spacingAndGlyphs">100</text><rect x="1062.00" y="268.87" width="280.00" height="1.00" fill="#e9e9e9"/><text x="1051.00" y="273.37" font-size="11.00" text-anchor="end" fill="#666" textLength="11.60" lengthAdjust="spacingAndGlyphs">50</text><rect x="1062.00" y="323.40" width="280.00" height="1.00" fill="#e9e9e9"/><text x="1051.00" y="327.90" font-size="11.00" text-anchor="end" fill="#666" textLength="5.80" lengthAdjust="spacingAndGlyphs">0</text><text x="1351.80" y="327.90" font-size="11.00" text-anchor="start" fill="#666" textLength="14.00" lengthAdjust="spacingAndGlyphs">0%</text><text x="1351.80" y="271.60" font-size="11.00" text-anchor="start" fill="#666" textLength="20.00" lengthAdjust="spacingAndGlyphs">20%</text><text x="1351.80" y="215.30" font-size="11.00" text-anchor="start" fill="#666" textLength="20.00" lengthAdjust="spacingAndGlyphs">40%</text><text x="1351.80" y="159.00" font-size="11.00" text-anchor="start" fill="#666" textLength="20.00" lengthAdjust="spacingAndGlyphs">60%</text><rect x="1074.00" y="175.57" width="25.40" height="148.33" fill="#000"/><rect x="1106.65" y="265.00" width="25.40" height="58.90" fill="#000"/><rect x="1139.30" y="303.18" width="25.40" height="20.72" fill="#000"/><rect x="1171.95" y="303.18" width="25.40" height="20.72" fill="#000"/><rect x="1204.60" y="308.63" width="25.40" height="15.27" fill="#000"/><rect x="1237.25" y="314.08" width="25.40" height="9.82" fill="#000"/><rect x="1269.90" y="319.54" width="25.40" height="4.36" fill="#000"/><rect x="1302.55" y="321.72" width="25.40" height="2.18" fill="#000"/><polyline points="1086.7,174.7 1119.4,264.8 1152.0,303.1 1184.7,303.1 1217.3,308.7 1250.0,314.0 1282.6,319.4 1315.2,321.6" fill="none" stroke="#1fb5ad" stroke-width="4.4" stroke-linecap="round" stroke-linejoin="round"/><rect x="1069.90" y="152.60" width="34.00" height="16.40" fill="#ffffff" rx="4" fill-opacity="0.68"/><text x="1086.90" y="165.30" font-size="11.00" text-anchor="middle" fill="#666" textLength="17.50" lengthAdjust="spacingAndGlyphs">136</text><rect x="1105.50" y="241.90" width="28.00" height="16.40" fill="#ffffff" rx="4" fill-opacity="0.68"/><text x="1119.50" y="254.60" font-size="11.00" text-anchor="middle" fill="#666" textLength="11.50" lengthAdjust="spacingAndGlyphs">54</text><rect x="1138.30" y="280.60" width="28.00" height="16.40" fill="#ffffff" rx="4" fill-opacity="0.68"/><text x="1152.30" y="293.30" font-size="11.00" text-anchor="middle" fill="#666" textLength="11.50" lengthAdjust="spacingAndGlyphs">19</text><rect x="1170.50" y="280.60" width="28.00" height="16.40" fill="#ffffff" rx="4" fill-opacity="0.68"/><text x="1184.50" y="293.30" font-size="11.00" text-anchor="middle" fill="#666" textLength="11.50" lengthAdjust="spacingAndGlyphs">19</text><rect x="1203.50" y="285.80" width="28.00" height="16.40" fill="#ffffff" rx="4" fill-opacity="0.68"/><text x="1217.50" y="298.50" font-size="11.00" text-anchor="middle" fill="#666" textLength="11.50" lengthAdjust="spacingAndGlyphs">14</text><rect x="1238.70" y="291.20" width="22.00" height="16.40" fill="#ffffff" rx="4" fill-opacity="0.68"/><text x="1249.70" y="303.90" font-size="11.00" text-anchor="middle" fill="#666" textLength="6.20" lengthAdjust="spacingAndGlyphs">9</text><rect x="1271.30" y="297.20" width="22.00" height="16.40" fill="#ffffff" rx="4" fill-opacity="0.68"/><text x="1282.30" y="309.90" font-size="11.00" text-anchor="middle" fill="#666" textLength="6.20" lengthAdjust="spacingAndGlyphs">4</text><rect x="1303.90" y="298.20" width="22.00" height="16.40" fill="#ffffff" rx="4" fill-opacity="0.68"/><text x="1314.90" y="310.90" font-size="11.00" text-anchor="middle" fill="#666" textLength="6.20" lengthAdjust="spacingAndGlyphs">2</text><rect x="1068.40" y="181.80" width="37.00" height="16.40" fill="#ffffff" rx="4" fill-opacity="0.68"/><text x="1086.90" y="194.50" font-size="11.00" text-anchor="middle" fill="#777" textLength="19.50" lengthAdjust="spacingAndGlyphs">53%</text><rect x="1101.00" y="271.30" width="37.00" height="16.40" fill="#ffffff" rx="4" fill-opacity="0.68"/><text x="1119.50" y="284.00" font-size="11.00" text-anchor="middle" fill="#777" textLength="19.50" lengthAdjust="spacingAndGlyphs">21%</text><rect x="1136.80" y="308.90" width="31.00" height="16.40" fill="#ffffff" rx="4" fill-opacity="0.68"/><text x="1152.30" y="321.60" font-size="11.00" text-anchor="middle" fill="#777" textLength="13.50" lengthAdjust="spacingAndGlyphs">7%</text><rect x="1150.30" y="294.70" width="31.00" height="16.40" fill="#ffffff" rx="4" fill-opacity="0.68"/><text x="1165.80" y="307.40" font-size="11.00" text-anchor="middle" fill="#777" textLength="13.50" lengthAdjust="spacingAndGlyphs">7%</text><rect x="1182.00" y="300.60" width="31.00" height="16.40" fill="#ffffff" rx="4" fill-opacity="0.68"/><text x="1197.50" y="313.30" font-size="11.00" text-anchor="middle" fill="#777" textLength="13.50" lengthAdjust="spacingAndGlyphs">5%</text><rect x="1214.70" y="305.90" width="31.00" height="16.40" fill="#ffffff" rx="4" fill-opacity="0.68"/><text x="1230.20" y="318.60" font-size="11.00" text-anchor="middle" fill="#777" textLength="13.50" lengthAdjust="spacingAndGlyphs">4%</text><rect x="1065.00" y="325.40" width="13.00" height="13.00" fill="#e8e8e8"/><rect x="1078.00" y="325.40" width="13.00" height="13.00" fill="#dddddd"/><rect x="1091.00" y="325.40" width="13.00" height="13.00" fill="#f0f0f0"/><rect x="1104.00" y="325.40" width="13.00" height="13.00" fill="#dfdfdf"/><rect x="1117.00" y="325.40" width="13.00" height="13.00" fill="#ebebeb"/><rect x="1130.00" y="325.40" width="13.00" height="13.00" fill="#f0f0f0"/><rect x="1143.00" y="325.40" width="13.00" height="13.00" fill="#dcdcdc"/><rect x="1156.00" y="325.40" width="13.00" height="13.00" fill="#f4f4f4"/><rect x="1169.00" y="325.40" width="13.00" height="13.00" fill="#e3e3e3"/><rect x="1182.00" y="325.40" width="13.00" height="13.00" fill="#ebebeb"/><rect x="1195.00" y="325.40" width="13.00" height="13.00" fill="#f0f0f0"/><rect x="1208.00" y="325.40" width="13.00" height="13.00" fill="#dcdcdc"/><rect x="1221.00" y="325.40" width="13.00" height="13.00" fill="#f0f0f0"/><rect x="1234.00" y="325.40" width="13.00" height="13.00" fill="#e0e0e0"/><rect x="1247.00" y="325.40" width="13.00" height="13.00" fill="#e6e6e6"/><rect x="1260.00" y="325.40" width="13.00" height="13.00" fill="#f0f0f0"/><rect x="1273.00" y="325.40" width="13.00" height="13.00" fill="#dcdcdc"/><rect x="1286.00" y="325.40" width="13.00" height="13.00" fill="#f0f0f0"/><rect x="1299.00" y="325.40" width="13.00" height="13.00" fill="#e6e6e6"/><rect x="1312.00" y="325.40" width="13.00" height="13.00" fill="#e8e8e8"/><rect x="1052.00" y="338.40" width="13.00" height="13.00" fill="#dcdcdc"/><rect x="1065.00" y="338.40" width="13.00" height="13.00" fill="#eeeeee"/><rect x="1078.00" y="338.40" width="13.00" height="13.00" fill="#eeeeee"/><rect x="1091.00" y="338.40" width="13.00" height="13.00" fill="#dcdcdc"/><rect x="1104.00" y="338.40" width="13.00" height="13.00" fill="#e8e8e8"/><rect x="1117.00" y="338.40" width="13.00" height="13.00" fill="#e2e2e2"/><rect x="1130.00" y="338.40" width="13.00" height="13.00" fill="#e8e8e8"/><rect x="1143.00" y="338.40" width="13.00" height="13.00" fill="#f0f0f0"/><rect x="1156.00" y="338.40" width="13.00" height="13.00" fill="#dcdcdc"/><rect x="1169.00" y="338.40" width="13.00" height="13.00" fill="#f0f0f0"/><rect x="1182.00" y="338.40" width="13.00" height="13.00" fill="#e6e6e6"/><rect x="1195.00" y="338.40" width="13.00" height="13.00" fill="#e4e4e4"/><rect x="1208.00" y="338.40" width="13.00" height="13.00" fill="#f0f0f0"/><rect x="1221.00" y="338.40" width="13.00" height="13.00" fill="#dcdcdc"/><rect x="1234.00" y="338.40" width="13.00" height="13.00" fill="#f0f0f0"/><rect x="1247.00" y="338.40" width="13.00" height="13.00" fill="#e4e4e4"/><rect x="1260.00" y="338.40" width="13.00" height="13.00" fill="#e6e6e6"/><rect x="1273.00" y="338.40" width="13.00" height="13.00" fill="#f0f0f0"/><rect x="1286.00" y="338.40" width="13.00" height="13.00" fill="#dcdcdc"/><rect x="1299.00" y="338.40" width="13.00" height="13.00" fill="#eeeeee"/><rect x="1117.00" y="351.40" width="13.00" height="6.00" fill="#eeeeee"/><rect x="1247.00" y="351.40" width="13.00" height="6.00" fill="#eeeeee"/><circle cx="1037.6" cy="132.6" r="5.3" fill="#000"/><circle cx="1127.9" cy="132.6" r="5.3" fill="#1fb5ad"/></svg>
<span class="t" id="t45" style="top:127.95px;font-size:11.40px;line-height:11.40px;color:#555;left:1045.00px;transform:scaleX(0.9414);transform-origin:0 0;">Transport Units</span>
<span class="t" id="t46" style="top:127.95px;font-size:11.40px;line-height:11.40px;color:#555;left:1135.90px;transform:scaleX(0.9235);transform-origin:0 0;">% of Total</span>
<span class="t" id="t47" style="top:386.83px;font-size:19.10px;line-height:19.10px;color:#333;left:1143.40px;transform:scaleX(0.9136);transform-origin:0 0;">Shipment Status</span>
<svg class="abs" style="left:1020px;top:425px" width="370" height="240" viewBox="1020 425 370 240" font-family="Liberation Sans, sans-serif"><circle cx="1103.4" cy="436.8" r="4.8" fill="#01b8aa"/><circle cx="1155.6" cy="436.8" r="4.8" fill="#f2c80f"/><circle cx="1215.3" cy="436.8" r="4.8" fill="#fd625e"/><rect x="1027.00" y="474.20" width="109.10" height="184.00" fill="#01b8aa"/><rect x="1136.10" y="474.20" width="178.70" height="184.00" fill="#f2c80f"/><rect x="1314.80" y="474.20" width="67.30" height="184.00" fill="#fd625e"/><text x="1081.80" y="571.00" font-size="11.00" text-anchor="middle" fill="#fff" font-weight="700" textLength="35.00" lengthAdjust="spacingAndGlyphs">30.74%</text><text x="1225.60" y="571.00" font-size="11.00" text-anchor="middle" fill="#fff" font-weight="700" textLength="35.50" lengthAdjust="spacingAndGlyphs">50.19%</text><text x="1348.20" y="571.00" font-size="11.00" text-anchor="middle" fill="#fff" font-weight="700" textLength="34.00" lengthAdjust="spacingAndGlyphs">19.07%</text></svg>
<span class="t" id="t48" style="top:431.55px;font-size:11.40px;line-height:11.40px;color:#555;left:1110.90px;transform:scaleX(0.9365);transform-origin:0 0;">Arrived</span>
<span class="t" id="t49" style="top:431.55px;font-size:11.40px;line-height:11.40px;color:#555;left:1162.90px;transform:scaleX(0.9027);transform-origin:0 0;">In Transit</span>
<span class="t" id="t50" style="top:431.55px;font-size:11.40px;line-height:11.40px;color:#555;left:1223.40px;transform:scaleX(0.9578);transform-origin:0 0;">Not Departed Yet</span>
<div class="abs" style="left:0;top:735px;width:1463px;height:16px;background:#f4f4f4;border-top:1px solid #dcdcdc;box-sizing:border-box"></div>
<div class="abs" style="left:1452px;top:747px;width:4.6px;height:2px;background:#3a3a3a"></div>
<div class="abs" style="left:1461px;top:747px;width:2px;height:1.4px;background:#3a3a3a"></div>
</body></html>
